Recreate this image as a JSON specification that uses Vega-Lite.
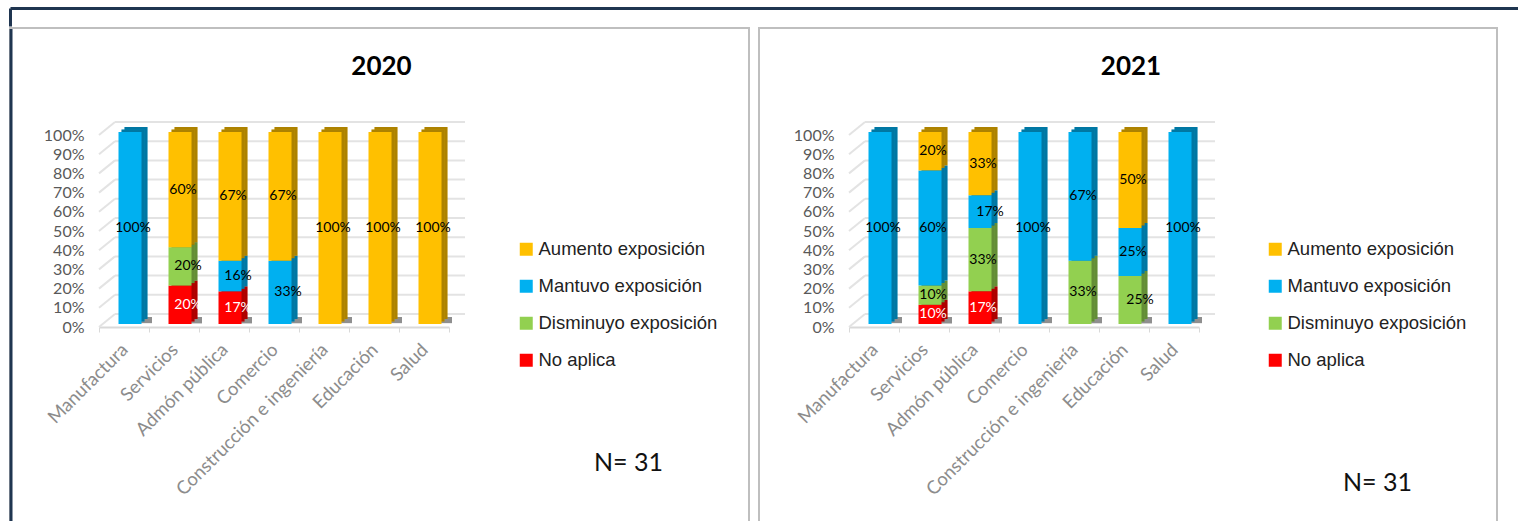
{"$schema":"https://vega.github.io/schema/vega-lite/v6.json","padding":{"left":8,"top":8,"right":0,"bottom":0},"background":"white","spacing":0,
"datasets":{
"d2020":[
{"sector":"Manufactura","estado":"Mantuvo exposición","rank":3,"pct":1.0},
{"sector":"Servicios","estado":"No aplica","rank":1,"pct":0.2},
{"sector":"Servicios","estado":"Disminuyo exposición","rank":2,"pct":0.2},
{"sector":"Servicios","estado":"Aumento exposición","rank":4,"pct":0.6},
{"sector":"Admón pública","estado":"No aplica","rank":1,"pct":0.17},
{"sector":"Admón pública","estado":"Mantuvo exposición","rank":3,"pct":0.16},
{"sector":"Admón pública","estado":"Aumento exposición","rank":4,"pct":0.67},
{"sector":"Comercio","estado":"Mantuvo exposición","rank":3,"pct":0.33},
{"sector":"Comercio","estado":"Aumento exposición","rank":4,"pct":0.67},
{"sector":"Construcción e ingeniería","estado":"Aumento exposición","rank":4,"pct":1.0},
{"sector":"Educación","estado":"Aumento exposición","rank":4,"pct":1.0},
{"sector":"Salud","estado":"Aumento exposición","rank":4,"pct":1.0}],
"d2021":[
{"sector":"Manufactura","estado":"Mantuvo exposición","rank":3,"pct":1.0},
{"sector":"Servicios","estado":"No aplica","rank":1,"pct":0.1},
{"sector":"Servicios","estado":"Disminuyo exposición","rank":2,"pct":0.1},
{"sector":"Servicios","estado":"Mantuvo exposición","rank":3,"pct":0.6},
{"sector":"Servicios","estado":"Aumento exposición","rank":4,"pct":0.2},
{"sector":"Admón pública","estado":"No aplica","rank":1,"pct":0.17},
{"sector":"Admón pública","estado":"Disminuyo exposición","rank":2,"pct":0.33},
{"sector":"Admón pública","estado":"Mantuvo exposición","rank":3,"pct":0.17},
{"sector":"Admón pública","estado":"Aumento exposición","rank":4,"pct":0.33},
{"sector":"Comercio","estado":"Mantuvo exposición","rank":3,"pct":1.0},
{"sector":"Construcción e ingeniería","estado":"Disminuyo exposición","rank":2,"pct":0.33},
{"sector":"Construcción e ingeniería","estado":"Mantuvo exposición","rank":3,"pct":0.67},
{"sector":"Educación","estado":"Disminuyo exposición","rank":2,"pct":0.25},
{"sector":"Educación","estado":"Mantuvo exposición","rank":3,"pct":0.25},
{"sector":"Educación","estado":"Aumento exposición","rank":4,"pct":0.5},
{"sector":"Salud","estado":"Mantuvo exposición","rank":3,"pct":1.0}],
"grid":[{"v":0},{"v":0.1},{"v":0.2},{"v":0.3},{"v":0.4},{"v":0.5},{"v":0.6},{"v":0.7},{"v":0.8},{"v":0.9},{"v":1}]
},
"vconcat":[
{"width":1510,"height":18,"view":{"stroke":null},"data":{"values":[{"a":0}]},"mark":{"type":"rule","opacity":0},
"encoding":{"x":{"field":"a","type":"quantitative","scale":{"domain":[0,1]},"axis":{"orient":"top","labels":false,"ticks":false,"grid":false,"title":null,"domainColor":"#1f3550","domainWidth":3}},
"y":{"field":"a","type":"quantitative","scale":{"domain":[0,1]},"axis":{"orient":"left","labels":false,"ticks":false,"grid":false,"title":null,"domainColor":"#1f3550","domainWidth":3}}}},
{"resolve":{"scale":{"color":"independent"},"legend":{"color":"independent"}},"hconcat":[
{"width":739,"height":495,"view":{"stroke":"#bfbfbf","strokeWidth":2},
"title":{"text":"2020","orient":"top","anchor":"middle","offset":-52,"dx":2,"font":"Lato","fontSize":26,"fontWeight":"bold","color":"#000000"},
"layer":[
{"data":{"name":"grid"},"mark":{"type":"rule","color":"#e3e3e3","strokeWidth":2,"xOffset":16,"x2Offset":16,"yOffset":-13,"y2Offset":-13},
"encoding":{"x":{"datum":"Manufactura","type":"nominal","bandPosition":0,"scale":{"type":"band","domain":["Manufactura","Servicios","Admón pública","Comercio","Construcción e ingeniería","Educación","Salud"],"range":[89,439],"paddingInner":0,"paddingOuter":0},
"axis":{"orient":"bottom","offset":-196,"tickBand":"extent","tickColor":"#d9d9d9","tickSize":5,"domainColor":"#d9d9d9","domainWidth":2,"labelAngle":-45,"labelAlign":"right","labelBaseline":"top","labelFont":"Lato","labelFontSize":18.5,"labelColor":"#8c8c8c","labelPadding":8,"labelOffset":-6,"labelOverlap":false,"labelLimit":0,"labelBound":false,"grid":false,"title":"N= 31","titleX":618,"titleY":143,"titleFont":"Lato","titleFontSize":25,"titleFontWeight":"normal","titleColor":"#111111","titleAlign":"center","titleBaseline":"alphabetic"}},"x2":{"datum":"Salud","bandPosition":1},
"y":{"field":"v","type":"quantitative","scale":{"domain":[0,1],"range":[299,107],"nice":false},
"axis":{"orient":"left","offset":-89,"values":[0,0.1,0.2,0.3,0.4,0.5,0.6,0.7,0.8,0.9,1],"format":".0%","domain":false,"ticks":false,"grid":false,"labelFont":"Lato","labelFontSize":16,"labelColor":"#595959","labelPadding":15,"title":null}}}},
{"data":{"name":"grid"},"mark":{"type":"rule","color":"#e3e3e3","strokeWidth":2,"x2Offset":16,"y2Offset":-13},
"encoding":{"x":{"datum":"Manufactura","type":"nominal","bandPosition":0},"x2":{"datum":"Manufactura","bandPosition":0},"y":{"field":"v","type":"quantitative"},"y2":{"field":"v"}}},
{"data":{"name":"d2020"},
"encoding":{"x":{"field":"sector","type":"nominal"},
"y":{"field":"pct","type":"quantitative","stack":"zero"},
"order":{"field":"rank","type":"quantitative"}},
"layer":[
{"mark":{"type":"bar","color":"#8f8f8f","width":12,"xOffset":22,"yOffset":-10},"encoding":{"y":{"datum":0},"y2":{"datum":0.02},"order":null}},
{"mark":{"type":"bar","width":23,"xOffset":12,"yOffset":-8},"encoding":{"color":{"field":"estado","type":"nominal","scale":{"domain":["Aumento exposición","Mantuvo exposición","Disminuyo exposición","No aplica"],"range":["#ffc000","#00b0f0","#92d050","#ff0000"]},"legend":{"orient":"none","legendX":507,"legendY":212,"title":null,"symbolType":"square","symbolSize":169,"symbolStrokeWidth":0,"labelFont":"Liberation Sans","labelFontSize":18.5,"labelColor":"#222222","rowPadding":18,"labelOffset":3,"labelLimit":400}}}},
{"mark":{"type":"bar","width":23,"xOffset":12,"yOffset":-8,"color":"#000000","opacity":0.32}},
{"mark":{"type":"bar","width":23,"xOffset":9,"yOffset":-5.5},"encoding":{"color":{"field":"estado","type":"nominal"}}},
{"mark":{"type":"bar","width":23,"xOffset":9,"yOffset":-5.5,"color":"#000000","opacity":0.32}},
{"mark":{"type":"bar","width":23,"xOffset":6,"yOffset":-3},"encoding":{"color":{"field":"estado","type":"nominal"}}},
{"mark":{"type":"text","font":"Lato","fontSize":14,"baseline":"middle","dx":9,"yOffset":-3},"encoding":{"y":{"field":"pct","type":"quantitative","stack":"zero","bandPosition":0.5},"text":{"condition":{"test":"(datum.estado==='No aplica'&&datum.sector!=='Manufactura')||(datum.sector==='Comercio'&&datum.rank===3)||datum.pct===0.16||(datum.sector==='Servicios'&&datum.rank===2)","value":""},"field":"pct","format":".0%"},"color":{"value":"#000000"}}},
{"mark":{"type":"text","font":"Lato","fontSize":14,"baseline":"middle","dx":14,"yOffset":-3},"encoding":{"y":{"field":"pct","type":"quantitative","stack":"zero","bandPosition":0.5},"text":{"condition":{"test":"(datum.estado==='No aplica')||(datum.sector==='Comercio'&&datum.rank===3)||datum.pct===0.16||(datum.sector==='Servicios'&&datum.rank===2)","field":"pct","format":".0%"},"value":""},"color":{"condition":{"test":"datum.estado==='No aplica'","value":"#ffffff"},"value":"#000000"}}}
]},
{"data":{"values":[{"a":0}]},"mark":{"type":"rule","color":"#1f3550","strokeWidth":3,"xOffset":-88},"encoding":{"x":{"datum":"Manufactura","type":"nominal","bandPosition":0},"y":{"datum":1.552},"y2":{"datum":-1.02}}}
]},
{"width":738,"height":495,"view":{"stroke":"#bfbfbf","strokeWidth":2},
"title":{"text":"2021","orient":"top","anchor":"middle","offset":-52,"dx":3,"font":"Lato","fontSize":26,"fontWeight":"bold","color":"#000000"},
"layer":[
{"data":{"name":"grid"},"mark":{"type":"rule","color":"#e3e3e3","strokeWidth":2,"xOffset":16,"x2Offset":16,"yOffset":-13,"y2Offset":-13},
"encoding":{"x":{"datum":"Manufactura","type":"nominal","bandPosition":0,"scale":{"type":"band","domain":["Manufactura","Servicios","Admón pública","Comercio","Construcción e ingeniería","Educación","Salud"],"range":[90,440],"paddingInner":0,"paddingOuter":0},
"axis":{"orient":"bottom","offset":-196,"tickBand":"extent","tickColor":"#d9d9d9","tickSize":5,"domainColor":"#d9d9d9","domainWidth":2,"labelAngle":-45,"labelAlign":"right","labelBaseline":"top","labelFont":"Lato","labelFontSize":18.5,"labelColor":"#8c8c8c","labelPadding":8,"labelOffset":-6,"labelOverlap":false,"labelLimit":0,"labelBound":false,"grid":false,"title":"N= 31","titleX":618,"titleY":163,"titleFont":"Lato","titleFontSize":25,"titleFontWeight":"normal","titleColor":"#111111","titleAlign":"center","titleBaseline":"alphabetic"}},"x2":{"datum":"Salud","bandPosition":1},
"y":{"field":"v","type":"quantitative","scale":{"domain":[0,1],"range":[299,107],"nice":false},
"axis":{"orient":"left","offset":-90,"values":[0,0.1,0.2,0.3,0.4,0.5,0.6,0.7,0.8,0.9,1],"format":".0%","domain":false,"ticks":false,"grid":false,"labelFont":"Lato","labelFontSize":16,"labelColor":"#595959","labelPadding":15,"title":null}}}},
{"data":{"name":"grid"},"mark":{"type":"rule","color":"#e3e3e3","strokeWidth":2,"x2Offset":16,"y2Offset":-13},
"encoding":{"x":{"datum":"Manufactura","type":"nominal","bandPosition":0},"x2":{"datum":"Manufactura","bandPosition":0},"y":{"field":"v","type":"quantitative"},"y2":{"field":"v"}}},
{"data":{"name":"d2021"},
"encoding":{"x":{"field":"sector","type":"nominal"},
"y":{"field":"pct","type":"quantitative","stack":"zero"},
"order":{"field":"rank","type":"quantitative"}},
"layer":[
{"mark":{"type":"bar","color":"#8f8f8f","width":12,"xOffset":22,"yOffset":-10},"encoding":{"y":{"datum":0},"y2":{"datum":0.02},"order":null}},
{"mark":{"type":"bar","width":23,"xOffset":12,"yOffset":-8},"encoding":{"color":{"field":"estado","type":"nominal","scale":{"domain":["Aumento exposición","Mantuvo exposición","Disminuyo exposición","No aplica"],"range":["#ffc000","#00b0f0","#92d050","#ff0000"]},"legend":{"orient":"none","legendX":507,"legendY":212,"title":null,"symbolType":"square","symbolSize":169,"symbolStrokeWidth":0,"labelFont":"Liberation Sans","labelFontSize":18.5,"labelColor":"#222222","rowPadding":18,"labelOffset":3,"labelLimit":400}}}},
{"mark":{"type":"bar","width":23,"xOffset":12,"yOffset":-8,"color":"#000000","opacity":0.32}},
{"mark":{"type":"bar","width":23,"xOffset":9,"yOffset":-5.5},"encoding":{"color":{"field":"estado","type":"nominal"}}},
{"mark":{"type":"bar","width":23,"xOffset":9,"yOffset":-5.5,"color":"#000000","opacity":0.32}},
{"mark":{"type":"bar","width":23,"xOffset":6,"yOffset":-3},"encoding":{"color":{"field":"estado","type":"nominal"}}},
{"mark":{"type":"text","font":"Lato","fontSize":14,"baseline":"middle","dx":9,"yOffset":-3},"encoding":{"y":{"field":"pct","type":"quantitative","stack":"zero","bandPosition":0.5},"text":{"condition":{"test":"(datum.sector==='Educación'&&datum.rank===2)||(datum.sector==='Admón pública'&&datum.rank===3)","value":""},"field":"pct","format":".0%"},"color":{"condition":{"test":"datum.estado==='No aplica'","value":"#ffffff"},"value":"#000000"}}},
{"mark":{"type":"text","font":"Lato","fontSize":14,"baseline":"middle","dx":16,"yOffset":-3},"encoding":{"y":{"field":"pct","type":"quantitative","stack":"zero","bandPosition":0.5},"text":{"condition":{"test":"(datum.sector==='Educación'&&datum.rank===2)||(datum.sector==='Admón pública'&&datum.rank===3)","field":"pct","format":".0%"},"value":""},"color":{"value":"#000000"}}}
]}
]}
],"spacing":8}
]}
